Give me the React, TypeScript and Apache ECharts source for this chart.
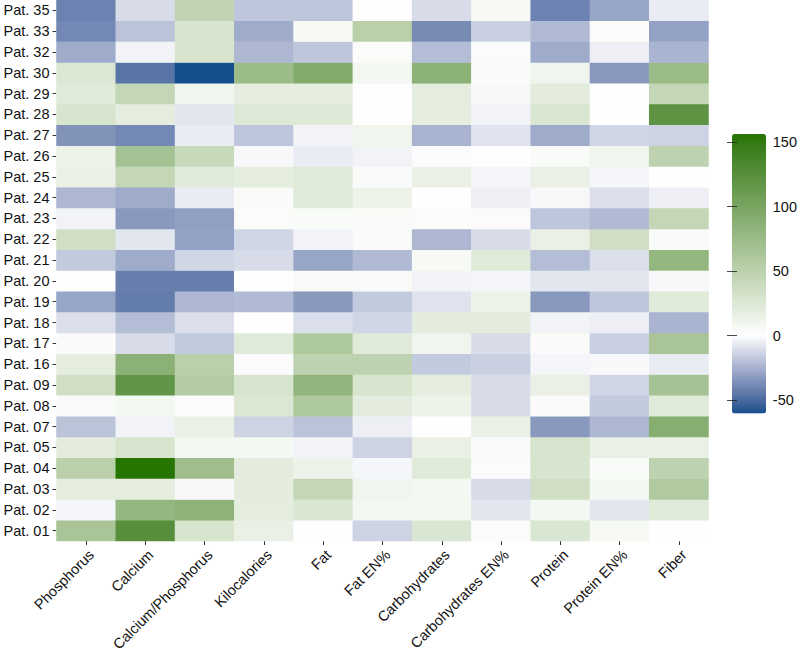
import React, { useEffect, useRef } from "react";
import * as echarts from "echarts";

const patients = ["Pat. 01","Pat. 02","Pat. 03","Pat. 04","Pat. 05","Pat. 07","Pat. 08","Pat. 09","Pat. 16","Pat. 17","Pat. 18","Pat. 19","Pat. 20","Pat. 21","Pat. 22","Pat. 23","Pat. 24","Pat. 25","Pat. 26","Pat. 27","Pat. 28","Pat. 29","Pat. 30","Pat. 32","Pat. 33","Pat. 35"];

const nutrients = ["Phosphorus","Calcium","Calcium/Phosphorus","Kilocalories","Fat","Fat EN%","Carbohydrates","Carbohydrates EN%","Protein","Protein EN%","Fiber"];

// values per nutrient, ordered as `patients`
const phosphorus = [64,-3,20,52,21,-19,4,36,20,4,-10,-29,0,-17,36,-4,-23,16,13,-35,30,23,27,-27,-39,-41];
const calcium = [125,80,20,156,30,-4,8,118,86,-11,-21,-43,-42,-27,-8,-33,-27,45,67,-39,20,45,-46,-4,-19,-11];
const calciumPhosphorus = [30,85,-2,72,8,16,3,56,52,-17,-10,-23,-42,-13,-30,-31,-6,23,42,-6,-8,11,-60,30,30,47];
const kilocalories = [16,20,21,21,8,-14,27,30,-1,23,0,-22,0,-11,-13,3,4,20,-2,-18,25,20,75,-23,-27,-18];
const fat = [1,28,45,13,-4,-19,60,83,49,60,-10,-33,5,-29,-4,5,23,23,-6,-4,25,20,94,-18,7,-18];
const fatEN = [-14,8,11,-3,-14,-5,21,30,49,23,-13,-17,5,-22,4,4,13,4,-4,11,0,0,8,3,52,0];
const carbohydrates = [28,8,8,23,16,0,13,20,-17,11,21,-9,-4,7,-23,3,0,16,-1,-24,20,20,86,-21,-38,-11];
const carbohydratesEN = [3,-8,-11,-1,4,16,-11,-11,-15,-11,21,13,-3,23,-11,-1,-5,-3,1,-9,-4,-2,4,3,-15,7];
const protein = [28,8,36,30,30,-33,4,16,-3,4,-4,-33,-8,-21,16,-18,-2,16,5,-27,28,21,11,-27,-22,-41];
const proteinEN = [7,-8,8,5,16,-23,-17,-13,-2,-15,-5,-18,-8,-10,36,-22,-10,-3,11,-13,0,0,-33,-5,3,-29];
const fiber = [1,23,58,49,16,90,23,67,-6,64,-24,23,-2,80,5,45,-5,0,49,-14,120,45,75,-24,-30,-6];

const columns = [phosphorus, calcium, calciumPhosphorus, kilocalories, fat, fatEN, carbohydrates, carbohydratesEN, protein, proteinEN, fiber];

const colorbarTicks = [-50, 0, 50, 100, 150];
const VMIN = -60.3;
const VMAX = 156.2;

const LOW = [16, 78, 139];
const MID = [255, 255, 255];
const HIGH = [38, 116, 0];

function lin(c: number) { c /= 255; return c <= 0.04045 ? c / 12.92 : Math.pow((c + 0.055) / 1.055, 2.4); }
function unlin(c: number) { const v = c <= 0.0031308 ? 12.92 * c : 1.055 * Math.pow(c, 1 / 2.4) - 0.055; return Math.max(0, Math.min(255, Math.round(v * 255))); }
function toLab(rgb: number[]) {
  const R = lin(rgb[0]), G = lin(rgb[1]), B = lin(rgb[2]);
  const X = (0.4124 * R + 0.3576 * G + 0.1805 * B) / 0.95047;
  const Y = (0.2126 * R + 0.7152 * G + 0.0722 * B);
  const Z = (0.0193 * R + 0.1192 * G + 0.9505 * B) / 1.08883;
  const f = (t: number) => (t > 0.008856 ? Math.cbrt(t) : 7.787 * t + 16 / 116);
  const fx = f(X), fy = f(Y), fz = f(Z);
  return [116 * fy - 16, 500 * (fx - fy), 200 * (fy - fz)];
}
function fromLab(lab: number[]) {
  const fy = (lab[0] + 16) / 116, fx = fy + lab[1] / 500, fz = fy - lab[2] / 200;
  const finv = (t: number) => (t * t * t > 0.008856 ? t * t * t : (t - 16 / 116) / 7.787);
  const X = finv(fx) * 0.95047, Y = finv(fy), Z = finv(fz) * 1.08883;
  const R = 3.2406 * X - 1.5372 * Y - 0.4986 * Z;
  const G = -0.9689 * X + 1.8758 * Y + 0.0415 * Z;
  const B = 0.0557 * X - 0.204 * Y + 1.057 * Z;
  return "rgb(" + unlin(R) + "," + unlin(G) + "," + unlin(B) + ")";
}
const labLow = toLab(LOW), labMid = toLab(MID), labHigh = toLab(HIGH);
function colorAt(v: number) {
  const end = v < 0 ? labLow : labHigh;
  const t = v < 0 ? v / VMIN : v / VMAX;
  return fromLab([0, 1, 2].map((k) => labMid[k] + (end[k] - labMid[k]) * Math.min(1, t)));
}
const N = 217;
const stops: string[] = [];
for (let i = 0; i < N; i++) stops.push(colorAt(VMIN + ((VMAX - VMIN) * i) / (N - 1)));

const FONT = "'Liberation Sans', Arial, Helvetica, sans-serif";
const TEXT = "#111111";
const FS = 14.5;

export default function App() {
  const ref = useRef<HTMLDivElement>(null);
  useEffect(() => {
    if (!ref.current) return;
    const chart = echarts.init(ref.current, null, { renderer: "svg" });
    const data: number[][] = [];
    columns.forEach((col, x) => col.forEach((v, y) => data.push([x, y, v])));
    chart.setOption({
      animation: false,
      backgroundColor: "#ffffff",
      textStyle: { fontFamily: FONT },
      grid: [
        { left: 56.5, top: 0, width: 652, height: 541, containLabel: false },
        { left: 732, top: 134, width: 34, height: 279.5, containLabel: false },
      ],
      xAxis: [
        {
          type: "category", data: nutrients, gridIndex: 0,
          axisLine: { show: false },
          axisTick: { show: true, alignWithLabel: true, length: 4, lineStyle: { color: "#333" } },
          axisLabel: { rotate: 45, align: "right", verticalAlign: "top", fontSize: FS, color: TEXT, margin: 6, fontFamily: FONT, interval: 0 },
          splitLine: { show: false },
        },
        { type: "value", gridIndex: 1, show: false, min: 0, max: 1 },
      ],
      yAxis: [
        {
          type: "category", data: patients, gridIndex: 0,
          axisLine: { show: false },
          axisTick: { show: true, alignWithLabel: true, length: 4, lineStyle: { color: "#333" } },
          axisLabel: { fontSize: FS, color: TEXT, margin: 7, fontFamily: FONT, interval: 0 },
          splitLine: { show: false },
        },
        {
          type: "value", gridIndex: 1, position: "right", min: VMIN, max: VMAX, z: 10,
          axisLine: { show: false },
          splitLine: { show: false },
          axisTick: { show: true, inside: true, length: 5, customValues: colorbarTicks, lineStyle: { color: "rgba(30,30,30,0.8)" } },
          axisLabel: { show: true, customValues: colorbarTicks, fontSize: FS, color: TEXT, margin: 9, fontFamily: FONT },
        },
        {
          type: "value", gridIndex: 1, position: "left", min: VMIN, max: VMAX, z: 10,
          axisLine: { show: false },
          splitLine: { show: false },
          axisTick: { show: true, inside: true, length: 5, customValues: colorbarTicks, lineStyle: { color: "rgba(30,30,30,0.8)" } },
          axisLabel: { show: false },
        },
      ],
      visualMap: {
        type: "continuous", min: VMIN, max: VMAX, seriesIndex: 0,
        inRange: { color: stops },
        calculable: false, orient: "vertical",
        itemWidth: 34, itemHeight: 279.5, left: 732, top: 134, padding: 0,
        text: null, showLabel: false, z: 2,
      },
      series: [
        {
          type: "heatmap", xAxisIndex: 0, yAxisIndex: 0, data,
          itemStyle: { borderWidth: 0 },
          emphasis: { disabled: true },
          z: 2,
        },
      ],
    });
    return () => chart.dispose();
  }, []);
  return <div ref={ref} style={{ position: "fixed", left: 0, top: 0, width: 800, height: 661 }} />;
}
